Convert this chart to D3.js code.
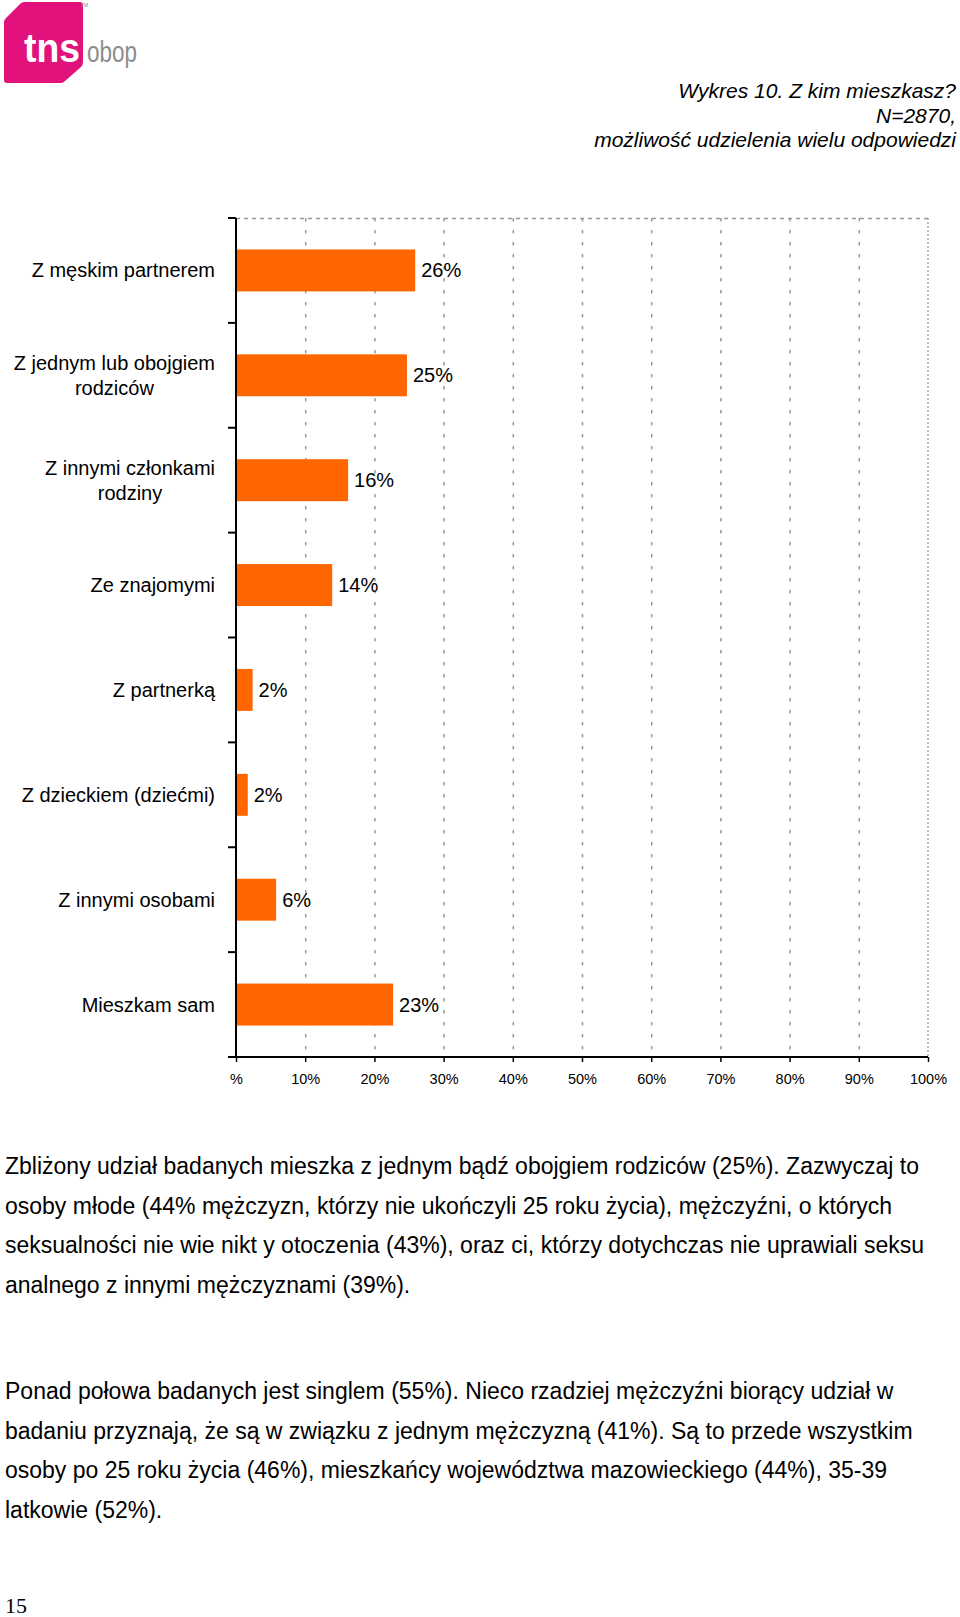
<!DOCTYPE html>
<html>
<head>
<meta charset="utf-8">
<script src="https://cdn.jsdelivr.net/npm/d3@7"></script>
<style>
    body { margin: 0; background: #fff; }
    svg text { font-family: "Liberation Sans", Arial, sans-serif; }
</style>
</head>
<body>
<div id="page"></div>
<script>
const width = 960, height = 1617;
const chartLeft = 236, chartRight = 928, chartTop = 218, chartBottom = 1057;

const categories = [
    ["Z męskim partnerem"],
    ["Z jednym lub obojgiem", "rodziców"],
    ["Z innymi członkami", "rodziny"],
    ["Ze znajomymi"],
    ["Z partnerką"],
    ["Z dzieckiem (dziećmi)"],
    ["Z innymi osobami"],
    ["Mieszkam sam"]
];
const values = [25.9, 24.7, 16.2, 13.9, 2.4, 1.7, 5.8, 22.7];
const valueLabels = ["26%", "25%", "16%", "14%", "2%", "2%", "6%", "23%"];
const xTicks = [0, 10, 20, 30, 40, 50, 60, 70, 80, 90, 100];
const xTickLabels = ["%", "10%", "20%", "30%", "40%", "50%", "60%", "70%", "80%", "90%", "100%"];

const titleLines = ["Wykres 10. Z kim mieszkasz?", "N=2870,", "możliwość udzielenia wielu odpowiedzi"];
const paragraph1 = [
    "Zbliżony udział badanych mieszka z jednym bądź obojgiem rodziców (25%). Zazwyczaj to",
    "osoby młode (44% mężczyzn, którzy nie ukończyli 25 roku życia), mężczyźni, o których",
    "seksualności nie wie nikt y otoczenia (43%), oraz ci, którzy dotychczas nie uprawiali seksu",
    "analnego z innymi mężczyznami (39%)."
];
const paragraph2 = [
    "Ponad połowa badanych jest singlem (55%). Nieco rzadziej mężczyźni biorący udział w",
    "badaniu przyznają, że są w związku z jednym mężczyzną (41%). Są to przede wszystkim",
    "osoby po 25 roku życia (46%), mieszkańcy województwa mazowieckiego (44%), 35-39",
    "latkowie (52%)."
];

const svg = d3.select("#page")
    .append("svg")
    .attr("width", width)
    .attr("height", height);

drawLogo();
drawTitle();
drawChart();
drawText(paragraph1, 1174);
drawText(paragraph2, 1399);

svg.append("text")
    .attr("x", 5)
    .attr("y", 1613)
    .style("font-family", "'Liberation Serif', 'Times New Roman', serif")
    .attr("font-size", 22)
    .attr("fill", "#000")
    .text("15");

function drawLogo() {
    const g = svg.append("g");
    g.append("path")
        .attr("d", "M4,22 Q4,20 6,18 L20,4 Q22,2 24,2 L80,2 Q83,2 83,5 L83,62 Q83,65 81,67 L65,81 Q63,83 61,83 L7,83 Q4,83 4,80 Z")
        .attr("fill", "#e2127c");
    g.append("text")
        .attr("x", 24)
        .attr("y", 62)
        .attr("font-size", 41)
        .attr("font-weight", "bold")
        .attr("fill", "#fff")
        .attr("textLength", 56)
        .attr("lengthAdjust", "spacingAndGlyphs")
        .text("tns");
    g.append("text")
        .attr("x", 87)
        .attr("y", 62)
        .attr("font-size", 30)
        .attr("fill", "#8c8c8c")
        .attr("textLength", 50)
        .attr("lengthAdjust", "spacingAndGlyphs")
        .text("obop");
    g.append("text")
        .attr("x", 81)
        .attr("y", 7)
        .attr("font-size", 5)
        .attr("fill", "#888")
        .text("TM");
}

function drawTitle() {
    svg.append("g")
        .selectAll("text")
        .data(titleLines)
        .enter().append("text")
        .attr("x", 956)
        .attr("y", (d, i) => 98 + i * 24.7)
        .attr("text-anchor", "end")
        .attr("font-size", 21)
        .attr("font-style", "italic")
        .attr("fill", "#000")
        .text(d => d);
}

function drawChart() {
    const xScale = d3.scaleLinear().domain([0, 100]).range([chartLeft, chartRight]);
    const yScale = d3.scaleBand()
        .domain(d3.range(categories.length))
        .range([chartTop, chartBottom])
        .paddingInner(0.6)
        .paddingOuter(0.3);
    const step = yScale.step();

    // grid
    const grid = svg.append("g").attr("class", "grid");
    grid.selectAll("line.v")
        .data(xTicks.filter(t => t > 0 && t < 100))
        .enter().append("line")
        .attr("x1", d => xScale(d) + 0.5)
        .attr("x2", d => xScale(d) + 0.5)
        .attr("y1", chartTop)
        .attr("y2", chartBottom)
        .attr("stroke", "#999")
        .attr("stroke-width", 1.5)
        .attr("stroke-dasharray", "3.5,8.5");
    grid.append("line")
        .attr("x1", xScale(100))
        .attr("x2", xScale(100))
        .attr("y1", chartTop)
        .attr("y2", chartBottom)
        .attr("stroke", "#999")
        .attr("stroke-width", 1.3)
        .attr("stroke-dasharray", "2,2");
    grid.append("line")
        .attr("x1", chartLeft)
        .attr("x2", chartRight)
        .attr("y1", chartTop + 0.5)
        .attr("y2", chartTop + 0.5)
        .attr("stroke", "#999")
        .attr("stroke-width", 1.5)
        .attr("stroke-dasharray", "4,4");

    // bars
    svg.append("g")
        .selectAll("rect")
        .data(values)
        .enter().append("rect")
        .attr("x", xScale(0))
        .attr("y", (d, i) => yScale(i))
        .attr("width", d => xScale(d) - xScale(0))
        .attr("height", yScale.bandwidth())
        .attr("fill", "#ff6600");

    // value labels
    svg.append("g")
        .selectAll("text")
        .data(values)
        .enter().append("text")
        .attr("x", d => xScale(d) + 6)
        .attr("y", (d, i) => yScale(i) + yScale.bandwidth() / 2 + 7)
        .attr("font-size", 20)
        .attr("fill", "#000")
        .text((d, i) => valueLabels[i]);

    // y axis: line with outward ticks at band boundaries
    const yAxis = svg.append("g").attr("class", "yAxis");
    yAxis.append("line")
        .attr("x1", chartLeft)
        .attr("x2", chartLeft)
        .attr("y1", chartTop)
        .attr("y2", chartBottom)
        .attr("stroke", "#000")
        .attr("stroke-width", 2);
    yAxis.selectAll("line.tick")
        .data(d3.range(categories.length + 1))
        .enter().append("line")
        .attr("class", "tick")
        .attr("x1", chartLeft - 8)
        .attr("x2", chartLeft)
        .attr("y1", i => chartTop + i * step)
        .attr("y2", i => chartTop + i * step)
        .attr("stroke", "#000")
        .attr("stroke-width", 2);

    // category labels, multi-line ones centred within their block
    const labelRight = 215;
    categories.forEach((lines, i) => {
        const cy = yScale(i) + yScale.bandwidth() / 2;
        const g = svg.append("g");
        const texts = g.selectAll("text")
            .data(lines)
            .enter().append("text")
            .attr("font-size", 20)
            .attr("fill", "#000")
            .attr("y", (d, j) => cy + 7 + (j - (lines.length - 1) / 2) * 24.7)
            .text(d => d);
        const maxW = d3.max(texts.nodes(), n => n.getComputedTextLength());
        texts.attr("text-anchor", "middle").attr("x", labelRight - maxW / 2);
    });

    // x axis
    const xAxis = d3.axisBottom(xScale)
        .tickValues(xTicks)
        .tickFormat((d, i) => xTickLabels[i])
        .tickSizeInner(5)
        .tickSizeOuter(0)
        .tickPadding(12);
    const gx = svg.append("g")
        .attr("class", "xAxis")
        .attr("transform", "translate(0," + chartBottom + ")")
        .call(xAxis);
    gx.select(".domain").remove();
    gx.append("line")
        .attr("x1", chartLeft - 6)
        .attr("x2", chartRight)
        .attr("stroke", "#000")
        .attr("stroke-width", 2);
    gx.selectAll(".tick line").attr("stroke", "#000").attr("stroke-width", 1.5);
    gx.selectAll(".tick text")
        .attr("font-size", 14.5)
        .attr("fill", "#000")
        .style("font-family", "'Liberation Sans', Arial, sans-serif");
}

function drawText(lines, baseline) {
    svg.append("g")
        .selectAll("text")
        .data(lines)
        .enter().append("text")
        .attr("x", 5)
        .attr("y", (d, i) => baseline + i * 39.7)
        .attr("font-size", 23)
        .attr("fill", "#000")
        .text(d => d);
}
</script>
</body>
</html>
